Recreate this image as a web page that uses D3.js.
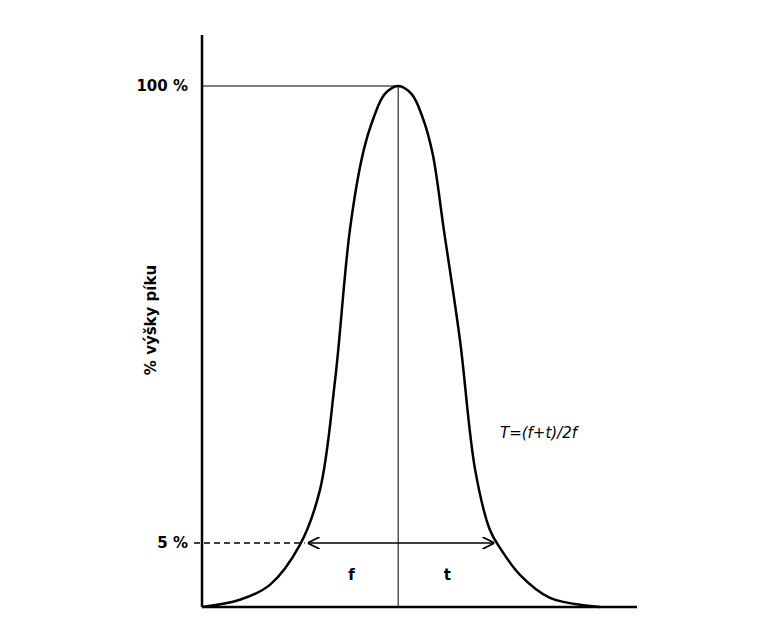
<!DOCTYPE html>
<html><head><meta charset="utf-8">
<script src="https://cdn.jsdelivr.net/npm/d3@7"></script>
<style>body{margin:0;background:#fff}</style></head>
<body><svg id="c" width="782" height="640"></svg>
<script>
// schematic peak: x in arbitrary units, y in % of peak height
const peakX = [0, 8.7, 15.6, 22.5, 27.1, 30.6, 34.0, 37.0, 39.5, 42.0, 45.1, 48.2, 50.7, 53.0, 55.6, 59.3, 62.8, 66.2, 68.5, 73.1, 80.0, 89.2, 91.5];
const peakY = [-8.3, -6.8, -3.7, 4.6, 16.0, 38.9, 70.1, 86.0, 93.5, 98.3, 100, 98.3, 93.5, 86.0, 70.1, 47.2, 20.2, 7.7, 4.0, -1.6, -6.4, -8.1, -8.3];
const tickVals = [100, 5];
const tickLabels = ["100 %", "5 %"];
const apexX = 45.1, leftX = 23.6, rightX = 67.7;
const yTitle = "% výšky píku", formula = "T=(f+t)/2f", segLabels = ["f", "t"];

const svg = d3.select("#c");
const x = d3.scaleLinear().domain([0, 100]).range([202, 637]);
const y = d3.scaleLinear().domain([-8.3, 100]).range([607, 86]);
const font = "DejaVu Sans, Verdana, sans-serif";

svg.append("line").attr("x1", x(0)).attr("x2", x(0)).attr("y1", 35).attr("y2", y(-8.3)).attr("stroke", "#000").attr("stroke-width", 2.5);
svg.append("line").attr("x1", x(0)).attr("x2", x(100)).attr("y1", y(-8.3)).attr("y2", y(-8.3)).attr("stroke", "#000").attr("stroke-width", 2.5);

tickVals.forEach((v, i) => {
  svg.append("text").attr("x", 188).attr("y", y(v) + 5).attr("text-anchor", "end")
    .attr("font-family", font).attr("font-weight", "bold").attr("font-size", 15).text(tickLabels[i]);
});
svg.append("text").attr("transform", `translate(156,${320}) rotate(-90)`).attr("text-anchor", "middle")
  .attr("font-family", font).attr("font-weight", "bold").attr("font-size", 15).text(yTitle);

svg.append("line").attr("x1", x(0)).attr("x2", x(apexX)).attr("y1", y(100)).attr("y2", y(100)).attr("stroke", "#000").attr("stroke-width", 1);
svg.append("line").attr("x1", x(apexX)).attr("x2", x(apexX)).attr("y1", y(100)).attr("y2", y(-8.3)).attr("stroke", "#000").attr("stroke-width", 1);
svg.append("line").attr("x1", 194).attr("x2", x(leftX)).attr("y1", y(5)).attr("y2", y(5)).attr("stroke", "#000").attr("stroke-width", 1.5).attr("stroke-dasharray", "6,4");

const defs = svg.append("defs");
defs.append("marker").attr("id", "ah").attr("viewBox", "0 0 10 10").attr("refX", 10).attr("refY", 5)
  .attr("markerWidth", 12).attr("markerHeight", 12).attr("markerUnits", "userSpaceOnUse").attr("orient", "auto-start-reverse")
  .append("path").attr("d", "M0,0 L10,5 L0,10").attr("fill", "none").attr("stroke", "#000").attr("stroke-width", 1.5);
svg.append("line").attr("x1", x(leftX) + 3).attr("x2", x(rightX) - 2).attr("y1", y(5)).attr("y2", y(5))
  .attr("stroke", "#000").attr("stroke-width", 1.5).attr("marker-start", "url(#ah)").attr("marker-end", "url(#ah)");

svg.append("text").attr("x", x((leftX + apexX) / 2)).attr("y", y(5) + 37).attr("text-anchor", "middle")
  .attr("font-family", font).attr("font-weight", "bold").attr("font-size", 15).text(segLabels[0]);
svg.append("text").attr("x", x((rightX + apexX) / 2)).attr("y", y(5) + 37).attr("text-anchor", "middle")
  .attr("font-family", font).attr("font-weight", "bold").attr("font-size", 15).text(segLabels[1]);
svg.append("text").attr("x", 500).attr("y", 438).attr("font-family", font).attr("font-style", "italic").attr("font-size", 15).text(formula);

const pts = peakX.map((d, i) => [d, peakY[i]]);
svg.append("path").datum(pts)
  .attr("d", d3.line().x(d => x(d[0])).y(d => y(d[1])).curve(d3.curveCatmullRom.alpha(0.5)))
  .attr("fill", "none").attr("stroke", "#000").attr("stroke-width", 2.5);
</script></body></html>
